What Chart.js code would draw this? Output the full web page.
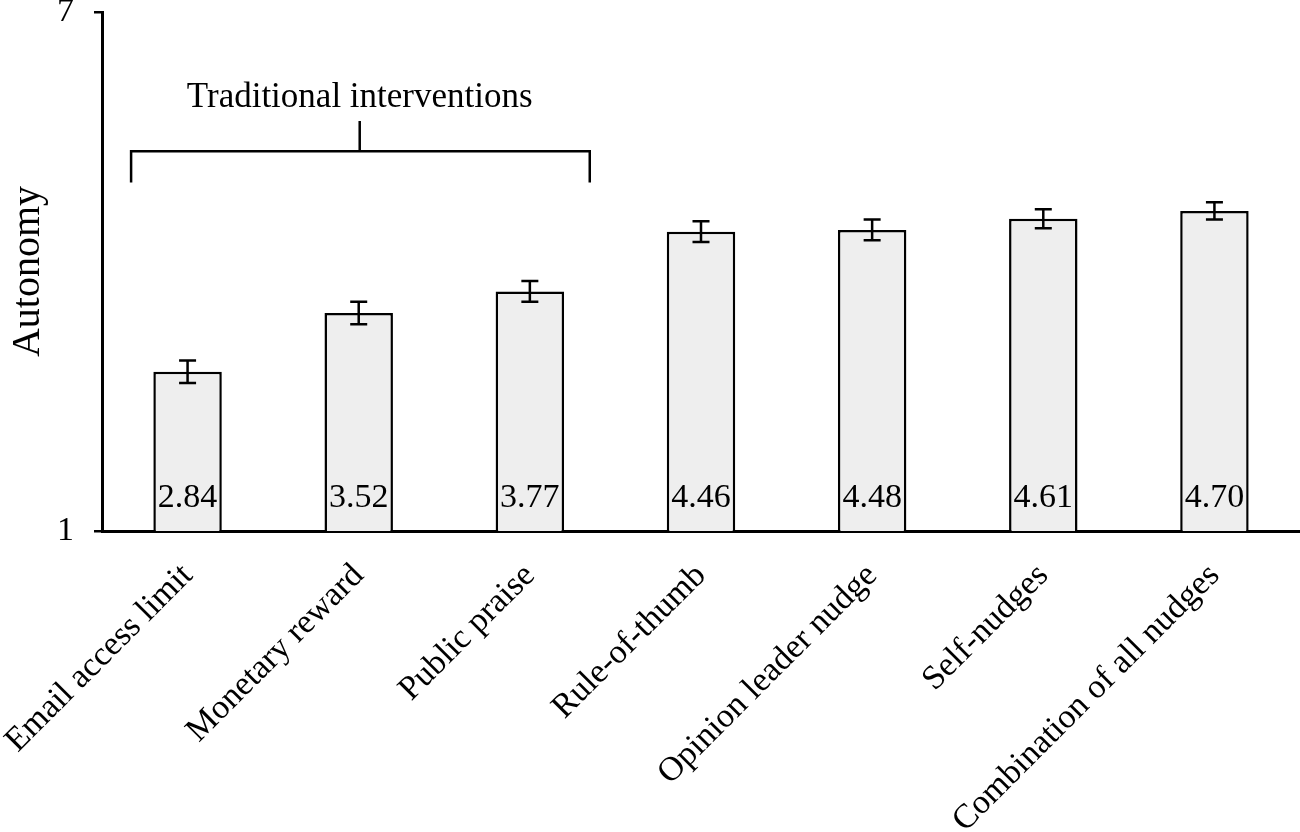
<!DOCTYPE html>
<html>
<head>
<meta charset="utf-8">
<script src="https://cdn.jsdelivr.net/npm/chart.js@4"></script>
<style>
  html, body { margin: 0; padding: 0; background: #ffffff; }
  #wrap { width: 1300px; height: 832px; position: relative; }
</style>
</head>
<body>
<div id="wrap"><canvas id="c"></canvas></div>
<script>
const categories = ["Email access limit", "Monetary reward", "Public praise", "Rule-of-thumb", "Opinion leader nudge", "Self-nudges", "Combination of all nudges"];
const means = [2.84, 3.52, 3.77, 4.46, 4.48, 4.61, 4.70];
const errors = [0.13, 0.13, 0.12, 0.12, 0.12, 0.11, 0.10];
const valueLabels = ["2.84", "3.52", "3.77", "4.46", "4.48", "4.61", "4.70"];
const yTicks = [1, 7];
const yTitle = "Autonomy";
const groupLabel = "Traditional interventions";
const groupStart = 0;   // first bar in the group
const groupEnd = 2;     // last bar in the group

const FONT = "'Liberation Serif', 'Times New Roman', serif";

const errorBarPlugin = {
  id: 'errorBars',
  afterDatasetsDraw(chart) {
    const ctx = chart.ctx;
    const meta = chart.getDatasetMeta(0);
    const y = chart.scales.y;
    ctx.save();
    ctx.strokeStyle = '#000';
    ctx.lineWidth = 2.5;
    meta.data.forEach((bar, i) => {
      const x = bar.x;
      const yTop = y.getPixelForValue(means[i] + errors[i]);
      const yBot = y.getPixelForValue(means[i] - errors[i]);
      const cap = 8.5;
      ctx.beginPath();
      ctx.moveTo(x, yTop); ctx.lineTo(x, yBot);
      ctx.moveTo(x - cap, yTop); ctx.lineTo(x + cap, yTop);
      ctx.moveTo(x - cap, yBot); ctx.lineTo(x + cap, yBot);
      ctx.stroke();
    });
    // value labels inside bars near the base
    const basePx = y.getPixelForValue(y.min);
    ctx.fillStyle = '#000';
    ctx.font = "34px " + FONT;
    ctx.textAlign = 'center';
    ctx.textBaseline = 'alphabetic';
    meta.data.forEach((bar, i) => {
      ctx.fillText(valueLabels[i], bar.x, basePx - 24);
    });
    ctx.restore();
  }
};

const bracketPlugin = {
  id: 'bracket',
  afterDraw(chart) {
    const ctx = chart.ctx;
    const xs = chart.scales.x, ys = chart.scales.y;
    const step = xs.getPixelForValue(1) - xs.getPixelForValue(0);
    const left = xs.getPixelForValue(groupStart) - 0.33 * step;
    const right = xs.getPixelForValue(groupEnd) + 0.35 * step;
    const mid = xs.getPixelForValue((groupStart + groupEnd) / 2) + 1;
    const yLine = ys.getPixelForValue(5.39);
    const yFoot = ys.getPixelForValue(5.03);
    const yTick = ys.getPixelForValue(5.74);
    const yText = ys.getPixelForValue(5.90);
    ctx.save();
    ctx.strokeStyle = '#000';
    ctx.lineWidth = 2.5;
    ctx.beginPath();
    ctx.moveTo(left, yFoot); ctx.lineTo(left, yLine); ctx.lineTo(right, yLine); ctx.lineTo(right, yFoot);
    ctx.moveTo(mid, yLine); ctx.lineTo(mid, yTick);
    ctx.stroke();
    ctx.fillStyle = '#000';
    ctx.font = "35px " + FONT;
    ctx.textAlign = 'center';
    ctx.textBaseline = 'alphabetic';
    ctx.fillText(groupLabel, mid, yText);
    ctx.restore();
  }
};

new Chart(document.getElementById('c'), {
  type: 'bar',
  data: {
    labels: categories,
    datasets: [{
      data: means,
      backgroundColor: '#eeeeee',
      borderColor: '#000000',
      borderWidth: 2.5,
      borderSkipped: 'bottom',
      barPercentage: 0.40,
      categoryPercentage: 1.0
    }]
  },
  options: {
    responsive: true,
    maintainAspectRatio: false,
    animation: false,
    devicePixelRatio: 1,
    layout: { padding: { top: 12, right: 0, left: 0, bottom: 0 } },
    plugins: { legend: { display: false }, tooltip: { enabled: false } },
    scales: {
      x: {
        grid: { display: false, drawTicks: false },
        border: { display: true, color: '#000', width: 3 },
        ticks: {
          color: '#000',
          font: { family: FONT, size: 34 },
          maxRotation: 45, minRotation: 45,
          autoSkip: false,
          padding: 25
        },
        afterFit(scale) { scale.height = 301; scale.paddingLeft = 0; scale.paddingRight = 0; }
      },
      y: {
        min: 1, max: 7,
        afterBuildTicks(scale) { scale.ticks = yTicks.map(v => ({ value: v })); },
        grid: { drawOnChartArea: false, drawTicks: true, tickLength: 8, color: '#000', lineWidth: 2.5 },
        border: { display: true, color: '#000', width: 3 },
        ticks: {
          color: '#000',
          font: { family: FONT, size: 34 },
          padding: 20
        },
        title: {
          display: true,
          text: yTitle,
          color: '#000',
          font: { family: FONT, size: 40 },
          padding: { top: 4, bottom: 0 }
        },
        afterFit(scale) { scale.width = 102; scale.paddingTop = 0; scale.paddingBottom = 0; }
      }
    }
  },
  plugins: [errorBarPlugin, bracketPlugin]
});
</script>
</body>
</html>
